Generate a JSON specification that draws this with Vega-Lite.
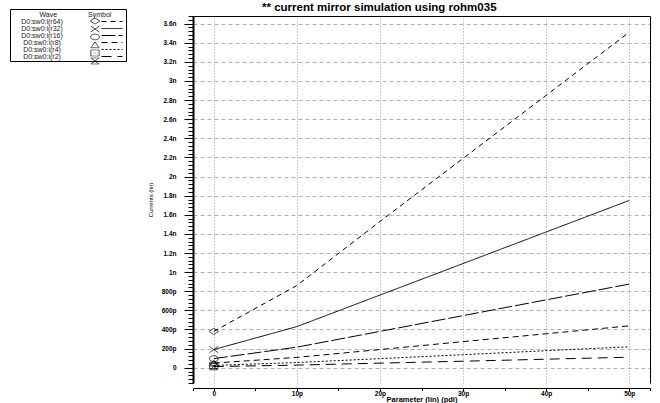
{
  "$schema": "https://vega.github.io/schema/vega-lite/v6.json",
  "width": 457,
  "height": 367,
  "autosize": {"type": "none"},
  "padding": {"left": 193, "top": 16, "right": 10, "bottom": 20},
  "background": "white",
  "title": {
    "text": "** current mirror simulation using rohm035",
    "font": "Liberation Sans",
    "fontSize": 11.5,
    "fontWeight": "bold",
    "color": "black",
    "anchor": "start",
    "frame": "group",
    "dx": 69,
    "offset": -5
  },
  "config": {
    "view": {"stroke": null},
    "axis": {
      "labelFont": "Liberation Sans",
      "titleFont": "Liberation Sans",
      "labelColor": "black",
      "titleColor": "black",
      "domainColor": "black",
      "tickColor": "black"
    },
    "legend": {
      "labelFont": "Liberation Sans",
      "titleFont": "Liberation Sans",
      "labelColor": "#222",
      "titleColor": "#222"
    }
  },
  "datasets": {
    "lines": [
      {"series": "D0:sw0:i(r64)", "param": 0, "current": 0.38},
      {"series": "D0:sw0:i(r64)", "param": 10, "current": 0.86},
      {"series": "D0:sw0:i(r64)", "param": 20, "current": 1.53},
      {"series": "D0:sw0:i(r64)", "param": 30, "current": 2.19},
      {"series": "D0:sw0:i(r64)", "param": 40, "current": 2.85},
      {"series": "D0:sw0:i(r64)", "param": 50, "current": 3.51},
      {"series": "D0:sw0:i(r32)", "param": 0, "current": 0.19},
      {"series": "D0:sw0:i(r32)", "param": 10, "current": 0.43},
      {"series": "D0:sw0:i(r32)", "param": 20, "current": 0.76},
      {"series": "D0:sw0:i(r32)", "param": 30, "current": 1.09},
      {"series": "D0:sw0:i(r32)", "param": 40, "current": 1.42},
      {"series": "D0:sw0:i(r32)", "param": 50, "current": 1.75},
      {"series": "D0:sw0:i(r16)", "param": 0, "current": 0.095},
      {"series": "D0:sw0:i(r16)", "param": 10, "current": 0.215},
      {"series": "D0:sw0:i(r16)", "param": 20, "current": 0.38},
      {"series": "D0:sw0:i(r16)", "param": 30, "current": 0.545},
      {"series": "D0:sw0:i(r16)", "param": 40, "current": 0.71},
      {"series": "D0:sw0:i(r16)", "param": 50, "current": 0.875},
      {"series": "D0:sw0:i(r8)", "param": 0, "current": 0.048},
      {"series": "D0:sw0:i(r8)", "param": 10, "current": 0.108},
      {"series": "D0:sw0:i(r8)", "param": 20, "current": 0.19},
      {"series": "D0:sw0:i(r8)", "param": 30, "current": 0.273},
      {"series": "D0:sw0:i(r8)", "param": 40, "current": 0.355},
      {"series": "D0:sw0:i(r8)", "param": 50, "current": 0.438},
      {"series": "D0:sw0:i(r4)", "param": 0, "current": 0.024},
      {"series": "D0:sw0:i(r4)", "param": 10, "current": 0.054},
      {"series": "D0:sw0:i(r4)", "param": 20, "current": 0.095},
      {"series": "D0:sw0:i(r4)", "param": 30, "current": 0.136},
      {"series": "D0:sw0:i(r4)", "param": 40, "current": 0.178},
      {"series": "D0:sw0:i(r4)", "param": 50, "current": 0.219},
      {"series": "D0:sw0:i(r2)", "param": 0, "current": 0.012},
      {"series": "D0:sw0:i(r2)", "param": 10, "current": 0.027},
      {"series": "D0:sw0:i(r2)", "param": 20, "current": 0.048},
      {"series": "D0:sw0:i(r2)", "param": 30, "current": 0.068},
      {"series": "D0:sw0:i(r2)", "param": 40, "current": 0.089},
      {"series": "D0:sw0:i(r2)", "param": 50, "current": 0.11}
    ],
    "markers": [
      {"wave": "D0:sw0:i(r64)", "param": 0, "current": 0.38},
      {"wave": "D0:sw0:i(r32)", "param": 0, "current": 0.19},
      {"wave": "D0:sw0:i(r16)", "param": 0, "current": 0.095},
      {"wave": "D0:sw0:i(r8)", "param": 0, "current": 0.048},
      {"wave": "D0:sw0:i(r4)", "param": 0, "current": 0.024},
      {"wave": "D0:sw0:i(r2)", "param": 0, "current": 0.012}
    ]
  },
  "layer": [
    {
      "data": {"name": "lines"},
      "mark": {"type": "line", "color": "black", "strokeWidth": 1},
      "encoding": {
        "x": {
          "field": "param",
          "type": "quantitative",
          "scale": {"domain": [-2.5, 52.5], "nice": false, "zero": false},
          "axis": {
            "orient": "bottom",
            "offset": 5,
            "values": [-2.5, 0, 5, 10, 15, 20, 25, 30, 35, 40, 45, 50, 52.5],
            "labelExpr": "datum.value == 0 ? '0' : (datum.value % 10 == 0 ? datum.value + 'p' : '')",
            "labelOverlap": false,
            "labelFontSize": 6.5,
            "labelFontWeight": "bold",
            "labelPadding": 0,
            "tickSize": 2.5,
            "grid": true,
            "gridColor": "#9a9a9a",
            "gridDash": [1, 2],
            "gridOpacity": {"condition": {"test": "datum.value % 10 == 0 && datum.value >= 0", "value": 1}, "value": 0},
            "title": "Parameter (lin) (pdi)",
            "titleFontSize": 7.5,
            "titleFontWeight": "bold",
            "titlePadding": -2
          }
        },
        "y": {
          "field": "current",
          "type": "quantitative",
          "scale": {"domain": [-0.16, 3.68], "nice": false, "zero": false},
          "axis": {
            "orient": "left",
            "values": [-0.16,-0.12,-0.08,-0.04,0,0.04,0.08,0.12,0.16,0.2,0.24,0.28,0.32,0.36,0.4,0.44,0.48,0.52,0.56,0.6,0.64,0.68,0.72,0.76,0.8,0.84,0.88,0.92,0.96,1,1.04,1.08,1.12,1.16,1.2,1.24,1.28,1.32,1.36,1.4,1.44,1.48,1.52,1.56,1.6,1.64,1.68,1.72,1.76,1.8,1.84,1.88,1.92,1.96,2,2.04,2.08,2.12,2.16,2.2,2.24,2.28,2.32,2.36,2.4,2.44,2.48,2.52,2.56,2.6,2.64,2.68,2.72,2.76,2.8,2.84,2.88,2.92,2.96,3,3.04,3.08,3.12,3.16,3.2,3.24,3.28,3.32,3.36,3.4,3.44,3.48,3.52,3.56,3.6,3.64,3.68],
            "labelExpr": "abs(datum.value*5 - round(datum.value*5)) > 0.001 ? '' : (datum.value == 0 ? '0' : (abs(datum.value) < 0.999 ? format(datum.value*1000, '.0f') + 'p' : format(datum.value, '.1~f') + 'n'))",
            "labelOverlap": false,
            "labelFontSize": 6.5,
            "labelFontWeight": "bold",
            "labelPadding": 8,
            "tickSize": {"condition": {"test": "abs(datum.value*5 - round(datum.value*5)) < 0.001", "value": 9}, "value": 5},
            "domainWidth": 2,
            "grid": true,
            "gridColor": "#b0b0b0",
            "gridDash": [4, 3],
            "gridOpacity": {"condition": {"test": "abs(datum.value*5 - round(datum.value*5)) < 0.001 && datum.value >= 0", "value": 1}, "value": 0},
            "title": "Currents (lin)",
            "titleFontSize": 6,
            "titleFontWeight": "normal",
            "titlePadding": 8
          }
        },
        "strokeDash": {
          "field": "series",
          "type": "nominal",
          "scale": {
            "domain": ["D0:sw0:i(r64)", "D0:sw0:i(r32)", "D0:sw0:i(r16)", "D0:sw0:i(r8)", "D0:sw0:i(r4)", "D0:sw0:i(r2)"],
            "range": [[5, 4], [1, 0], [14, 3], [6, 4], [2, 2], [10, 6]]
          },
          "legend": {
            "orient": "none",
            "legendX": -183,
            "legendY": -7,
            "title": "Wave",
            "titleFontSize": 7,
            "titleFontWeight": "normal",
            "titlePadding": 0,
            "encode": {"title": {"update": {"dx": {"value": 28}}}},
            "symbolType": "M-3,0H3",
            "symbolSize": 49,
            "symbolStrokeColor": "black",
            "symbolStrokeWidth": 1,
            "symbolOffset": 96.5,
            "labelOffset": -74,
            "labelAlign": "center",
            "labelFontSize": 7,
            "rowPadding": 0,
            "padding": 1.5,
            "strokeColor": "black",
            "fillColor": "white"
          }
        }
      }
    },
    {
      "data": {"name": "markers"},
      "mark": {"type": "point", "filled": false, "color": "black", "strokeWidth": 1, "size": 40},
      "encoding": {
        "x": {
          "field": "param",
          "type": "quantitative",
          "axis": {"orient": "top", "labels": false, "ticks": false, "grid": false, "title": null, "domainColor": "black"}
        },
        "y": {
          "field": "current",
          "type": "quantitative",
          "axis": {"orient": "right", "labels": false, "ticks": false, "grid": false, "title": null, "domainColor": "black"}
        },
        "shape": {
          "field": "wave",
          "type": "nominal",
          "sort": ["D0:sw0:i(r64)", "D0:sw0:i(r32)", "D0:sw0:i(r16)", "D0:sw0:i(r8)", "D0:sw0:i(r4)", "D0:sw0:i(r2)"],
          "scale": {
            "range": [
              "M-1.5,0L0,-1L1.5,0L0,1Z",
              "M-1.4,-1L1.4,1M1.4,-1L-1.4,1",
              "M1.4,0L1.21,0.48L0.7,0.82L0,0.95L-0.7,0.82L-1.21,0.48L-1.4,0L-1.21,-0.48L-0.7,-0.82L0,-0.95L0.7,-0.82L1.21,-0.48Z",
              "M-1.3,0.9L0,-1L1.3,0.9Z",
              "M-1.3,-1H1.3V1H-1.3ZM-0.15,0H0.15",
              "M-1.3,-1L1.3,-1L-1.3,1L1.3,1Z"
            ]
          },
          "legend": {
            "orient": "none",
            "legendX": -105,
            "legendY": -5.5,
            "title": "Symbol",
            "titleFontSize": 7,
            "titleFontWeight": "normal",
            "titlePadding": 0,
            "labelOpacity": 0,
            "labelFontSize": 7,
            "labelOffset": 2,
            "symbolSize": 40,
            "symbolStrokeColor": "black",
            "symbolStrokeWidth": 1,
            "symbolFillColor": "transparent",
            "symbolOffset": 3,
            "clipHeight": 7,
            "rowPadding": 0,
            "padding": 0
          }
        }
      }
    }
  ],
  "resolve": {"axis": {"x": "independent", "y": "independent"}}
}
